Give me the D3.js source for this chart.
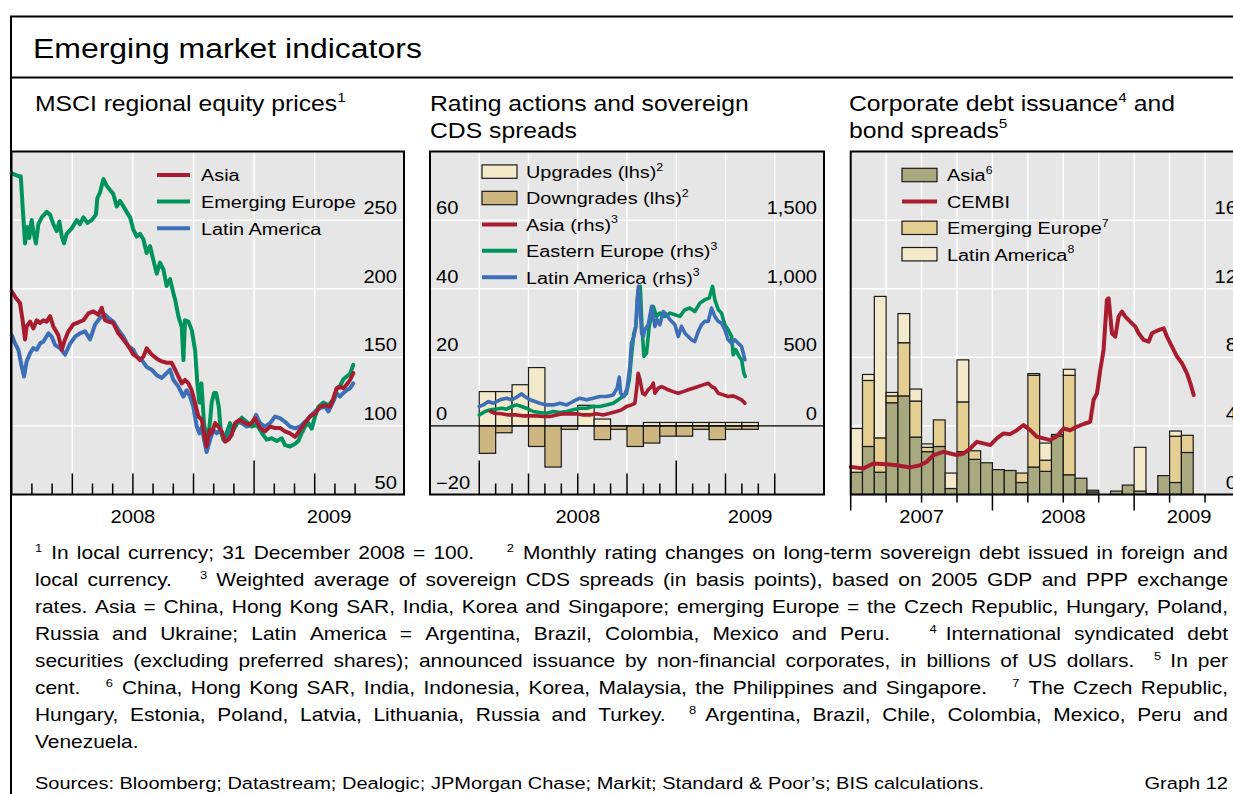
<!DOCTYPE html>
<html><head><meta charset="utf-8">
<script src="https://cdn.jsdelivr.net/npm/d3@7"></script>
<style>body{margin:0;background:#fff}svg{display:block}text{white-space:pre}</style>
</head><body>
<script>
// ---------------- DATA ----------------
// Panel 1: MSCI regional equity prices (months since Jan 2008, index 31 Dec 2008 = 100)
const eqAsia = [[0,198],[0.17,194],[0.41,189.5],[0.54,177],[0.66,163],[0.74,172.5],[0.91,176],[1.07,171],[1.24,177],[1.40,175],[1.57,177],[1.73,176],[1.90,180],[2.06,172.5],[2.31,166],[2.48,155.5],[2.64,163],[2.81,169],[3.05,174],[3.30,175.5],[3.55,177],[3.80,182],[4.04,183.5],[4.29,181],[4.46,186],[4.62,177],[4.79,176],[5.03,175],[5.28,167.5],[5.53,163],[5.78,158],[6.02,152],[6.19,150.5],[6.35,148],[6.52,150.5],[6.68,156.5],[6.93,152],[7.18,149],[7.43,147],[7.67,146],[7.92,146],[8.09,141],[8.25,136],[8.42,131],[8.58,133.5],[8.75,131],[8.91,126],[9.08,116.5],[9.24,107],[9.41,104.5],[9.52,94.5],[9.65,85],[9.79,97],[9.90,94.5],[10.07,102],[10.23,99.5],[10.40,96],[10.56,88.5],[10.73,90],[10.89,93.5],[11.06,102],[11.30,104.5],[11.55,102],[11.80,101],[12.05,105.5],[12.29,98.5],[12.54,96],[12.79,99.5],[13.04,98.5],[13.28,98.5],[13.53,96],[13.78,94.5],[14.03,92],[14.27,97],[14.52,102],[14.77,107],[15.02,109],[15.26,114],[15.51,115],[15.76,114],[15.92,120],[16.09,127.5],[16.25,128.5],[16.42,127.5],[16.58,130],[16.75,133.5],[16.91,138.5]];
const eqEurope = [[0,284],[0.33,282],[0.45,282],[0.54,260],[0.66,233],[0.78,245],[0.87,237],[0.99,250],[1.07,242],[1.20,233],[1.32,247],[1.49,252],[1.73,256],[1.90,254],[2.06,247],[2.23,242],[2.36,249],[2.48,238],[2.59,233],[2.72,240],[2.97,244],[3.22,250],[3.38,247],[3.55,252],[3.75,248],[3.96,250],[4.17,254],[4.24,266],[4.37,270],[4.54,280],[4.70,275],[4.87,272],[5.03,269],[5.20,260],[5.36,264],[5.53,260],[5.69,256],[5.86,252],[6.02,243],[6.19,238],[6.35,240],[6.52,236],[6.68,226],[6.85,231],[7.01,221],[7.18,211],[7.34,219],[7.51,214],[7.67,202],[7.84,207],[8.00,197],[8.09,192],[8.25,180],[8.42,172],[8.50,148],[8.58,177],[8.75,176],[8.91,170],[9.08,155],[9.19,131],[9.29,117],[9.39,131],[9.52,102],[9.65,90],[9.79,99],[9.90,117],[10.02,124],[10.12,124],[10.25,114],[10.35,97],[10.48,90],[10.64,95],[10.81,102],[10.97,97],[11.17,102],[11.39,106],[11.63,103],[11.88,99.5],[12.13,101],[12.38,95],[12.62,90],[12.87,91],[13.12,89],[13.37,91],[13.53,86],[13.78,85],[14.03,87],[14.19,89],[14.36,95],[14.52,99.5],[14.69,102],[14.85,98],[15.02,107],[15.18,114],[15.43,117],[15.68,115],[15.92,119],[16.09,127],[16.25,129],[16.42,134],[16.58,136],[16.75,138],[16.91,144.5]];
const eqLatAm = [[0,166],[0.17,160],[0.33,155.5],[0.50,143],[0.61,136],[0.74,147],[0.91,153],[1.07,156.7],[1.24,155.5],[1.40,160],[1.57,161.5],[1.82,167.5],[1.98,165],[2.15,159],[2.39,156.7],[2.64,152],[2.89,160],[3.14,165],[3.38,167.5],[3.63,169],[3.88,163],[4.13,174],[4.37,178.6],[4.62,181],[4.79,178.6],[5.03,176],[5.28,170],[5.53,165],[5.78,158],[6.02,155.5],[6.19,150.5],[6.44,148],[6.68,143],[6.93,141],[7.18,137],[7.43,135],[7.67,138.5],[7.84,141],[8.00,133.6],[8.25,128.7],[8.50,121.4],[8.66,126],[8.83,121.4],[8.99,114],[9.16,99.5],[9.29,94.6],[9.42,99.5],[9.52,90],[9.65,81],[9.82,90],[9.98,97],[10.15,94.6],[10.31,97],[10.51,90],[10.68,91],[10.89,97],[11.14,103],[11.39,102],[11.63,99.5],[11.88,100.7],[12.10,108],[12.29,102],[12.54,99.5],[12.79,102],[13.04,106.8],[13.28,105.6],[13.53,103],[13.78,99.5],[14.03,98.3],[14.27,99.5],[14.52,103],[14.77,106.8],[15.02,110.5],[15.26,113],[15.51,114],[15.68,110.5],[15.92,117.8],[16.09,124],[16.25,121.4],[16.42,124],[16.58,126],[16.75,127.5],[16.91,131]];
const eqYTicks = [50,100,150,200,250];

// Panel 2: rating actions (monthly, Jan 2008 .. May 2009) and sovereign CDS spreads (bp)
const ratingMonths = [0,1,2,3,4,5,6,7,8,9,10,11,12,13,14,15,16];
const upgrades   = [10,10,12,17,0,0,6,2,0,0,1,1,1,1,1,1,1];
const downgrades = [-8,-2,0,-6,-12,-1,0,-4,-1,-6,-5,-3,-3,-1,-4,-1,-1];
const cdsAsia = [[0.69,105],[0.95,92],[1.36,88],[1.77,80],[2.27,80],[2.68,73],[3.09,73],[3.49,73],[3.90,68],[4.30,68],[4.71,80],[5.12,88],[5.52,88],[5.93,88],[6.33,80],[6.74,80],[7.15,88],[7.55,80],[7.96,92],[8.36,105],[8.67,117],[8.97,141],[9.27,153],[9.48,165],[9.58,263],[9.68,384],[9.79,336],[9.95,238],[10.09,226],[10.29,263],[10.50,287],[10.60,311],[10.70,238],[10.90,275],[11.10,287],[11.31,275],[11.51,263],[11.81,250],[12.12,238],[12.42,250],[12.73,263],[13.03,275],[13.34,287],[13.64,299],[13.95,311],[14.15,287],[14.35,275],[14.56,238],[14.86,226],[15.16,214],[15.47,219],[15.77,202],[15.98,190],[16.18,165]];
const cdsEurope = [[0,80],[0.35,105],[0.65,117],[0.95,122],[1.36,129],[1.66,122],[1.97,141],[2.27,153],[2.58,141],[2.88,129],[3.29,105],[3.69,97],[4.10,92],[4.51,105],[4.91,97],[5.32,105],[5.72,117],[6.13,129],[6.54,129],[6.94,141],[7.35,141],[7.75,153],[8.16,165],[8.47,190],[8.73,214],[8.97,238],[9.14,336],[9.27,506],[9.42,676],[9.54,725],[9.68,993],[9.81,1017],[9.91,725],[10.03,506],[10.19,530],[10.35,725],[10.60,871],[10.80,798],[11.00,822],[11.31,798],[11.62,822],[11.92,810],[12.22,798],[12.53,847],[12.83,859],[13.13,834],[13.44,895],[13.74,920],[14.01,932],[14.21,1017],[14.35,920],[14.56,847],[14.76,822],[14.96,737],[15.16,701],[15.37,652],[15.47,518],[15.63,555],[15.83,506],[15.98,482],[16.12,384],[16.20,360]];
const cdsLatAm = [[0,141],[0.24,153],[0.55,178],[0.85,165],[1.26,190],[1.66,202],[1.97,190],[2.27,209],[2.58,234],[2.78,214],[3.09,190],[3.39,178],[3.69,165],[4.10,153],[4.51,153],[4.91,165],[5.32,153],[5.72,178],[6.13,202],[6.54,190],[6.94,202],[7.35,214],[7.75,214],[8.16,226],[8.40,275],[8.53,355],[8.61,238],[8.81,214],[9.01,275],[9.17,433],[9.27,603],[9.42,652],[9.54,725],[9.62,920],[9.70,1017],[9.79,871],[9.89,676],[9.99,652],[10.09,701],[10.29,737],[10.50,871],[10.70,725],[10.84,774],[11.00,737],[11.21,834],[11.41,810],[11.62,774],[11.92,737],[12.12,652],[12.32,725],[12.53,676],[12.73,652],[12.93,628],[13.13,615],[13.34,689],[13.54,737],[13.74,762],[13.95,762],[14.15,859],[14.35,798],[14.56,762],[14.76,749],[14.96,701],[15.16,628],[15.37,603],[15.57,628],[15.77,603],[15.98,579],[16.18,482]];
const ratingTicks = [-20,0,20,40,60];
const cdsTicks = [0,500,1000,1500];

// Panel 3: corporate debt issuance (monthly, Jan 2007 .. May 2009) and CEMBI spread (%)
const issAsia   = [1.3,2.8,1.3,5.35,5.75,3.35,2.5,2.8,0.35,2.5,2.05,1.85,1.45,1.4,0.7,1.6,1.35,3.4,1.15,0.95,0.15,0,0.2,0.55,0.2,0.05,1.1,0.7,2.45];
const issEurope = [0,3.85,2.0,0.4,3.1,2.1,0.25,1.55,0,2.9,0.5,0,0,0,0.55,5.35,0.65,0.1,5.8,0,0.1,0,0,0,0,0,0,2.7,1.0];
const issLatAm  = [2.55,0.35,8.25,0.2,1.7,0.7,0.2,0,0.9,2.45,0,0,0,0,0,0.1,1.0,0,0.35,0,0,0,0,0,2.55,0,0,0.3,0];
const cembi = [[0,1.61],[1.07,1.52],[1.92,1.81],[3.05,1.77],[3.90,1.71],[5.03,1.58],[5.88,1.71],[6.44,1.91],[7.01,2.30],[7.85,2.49],[8.42,2.39],[8.98,2.30],[9.55,2.39],[10.11,2.68],[10.68,3.07],[11.24,2.98],[11.81,2.88],[12.37,3.27],[12.94,3.56],[13.50,3.52],[14.07,3.75],[14.63,4.05],[15.20,3.75],[15.76,3.37],[16.33,3.27],[16.89,3.17],[17.46,3.40],[18.02,3.85],[18.59,3.75],[19.15,3.95],[19.72,4.11],[20.28,4.24],[20.56,5.51],[20.85,5.89],[21.13,7.26],[21.41,8.42],[21.69,11.34],[21.84,11.44],[22.12,9.40],[22.40,9.20],[22.68,10.37],[22.97,10.66],[23.25,10.37],[23.81,9.98],[24.10,9.79],[24.38,9.40],[24.80,9.01],[25.23,8.91],[25.51,9.40],[26.07,9.59],[26.50,9.69],[26.78,9.20],[27.20,8.62],[27.63,8.04],[28.05,7.65],[28.47,7.06],[28.76,6.48],[29.04,5.80]];
const issTicks = [0,4,8,12,16];

const titleText = "Emerging market indicators";
const footLines = [
 "^1 In local currency; 31 December 2008 = 100.    ^2 Monthly rating changes on long-term sovereign debt issued in foreign and",
 "local currency.   ^3 Weighted average of sovereign CDS spreads (in basis points), based on 2005 GDP and PPP exchange",
 "rates. Asia = China, Hong Kong SAR, India, Korea and Singapore; emerging Europe = the Czech Republic, Hungary, Poland,",
 "Russia and Ukraine; Latin America = Argentina, Brazil, Colombia, Mexico and Peru.   ^4 International syndicated debt",
 "securities (excluding preferred shares); announced issuance by non-financial corporates, in billions of US dollars.  ^5 In per",
 "cent.   ^6 China, Hong Kong SAR, India, Indonesia, Korea, Malaysia, the Philippines and Singapore.   ^7 The Czech Republic,",
 "Hungary, Estonia, Poland, Latvia, Lithuania, Russia and Turkey.  ^8 Argentina, Brazil, Chile, Colombia, Mexico, Peru and",
 "Venezuela."
];
const sourcesText = "Sources: Bloomberg; Datastream; Dealogic; JPMorgan Chase; Markit; Standard & Poor’s; BIS calculations.";
const graphLabel = "Graph 12";

// ---------------- STYLE ----------------
const W = 1233, H = 794, SX = 1.15;
const FONT = "'Liberation Sans', Arial, Helvetica, sans-serif";
const C = {red:"#A81C2F", green:"#00935E", blue:"#3D6FB6", bg:"#E6E6E6",
  up:"#F3EACB", down:"#CDB67F", iAsia:"#A8A97F", iEur:"#E4CE92", iLat:"#F3EACB", edge:"#1a1a1a"};
const AX = 17.5, LEG = 17.3;

const svg = d3.select('body').append('svg').attr('width',W).attr('height',H)
  .style('font-family',FONT);

function rich(g,x,y,parts,size,anchor){
  const t = g.append('text').attr('transform',`translate(${x},${y}) scale(${SX},1)`)
    .attr('font-size',size).attr('text-anchor',anchor||'start').attr('fill','#000');
  let raised=false;
  (Array.isArray(parts)?parts:[parts]).forEach(p=>{
    const sup = typeof p==='object';
    const ts = t.append('tspan').text(sup?p.sup:p);
    if(sup){ ts.attr('font-size',size*0.62).attr('dy',-size*0.42); raised=true; }
    else if(raised){ ts.attr('dy',size*0.42); raised=false; }
  });
  return t;
}

// frame
const frame = svg.append('g');
frame.append('line').attr('x1',10).attr('x2',W).attr('y1',16.5).attr('y2',16.5).attr('stroke','#000').attr('stroke-width',2);
frame.append('line').attr('x1',11).attr('x2',11).attr('y1',16).attr('y2',H).attr('stroke','#000').attr('stroke-width',2);
frame.append('line').attr('x1',11).attr('x2',W).attr('y1',77.5).attr('y2',77.5).attr('stroke','#000').attr('stroke-width',2);
rich(svg,33,58,titleText,27.8);

const PY0 = 151.5, PY1 = 494.5, YEAR_Y = 523, SUB_Y = 111, SUB_Y2 = 137.5;

function panelBase(x0,x1){
  const g = svg.append('g');
  g.append('rect').attr('x',x0).attr('y',PY0).attr('width',x1-x0).attr('height',PY1-PY0).attr('fill',C.bg);
  return g;
}
function border(g,x0,x1){
  g.append('rect').attr('x',x0).attr('y',PY0).attr('width',x1-x0).attr('height',PY1-PY0)
   .attr('fill','none').attr('stroke','#000').attr('stroke-width',2);
}
function hgrid(g,y,vals,x0,x1){
  g.selectAll(null).data(vals).join('line').attr('x1',x0).attr('x2',x1)
   .attr('y1',d=>y(d)).attr('y2',d=>y(d)).attr('stroke','#fff').attr('stroke-width',1.4);
}
function vgrid(g,x,vals){
  g.selectAll(null).data(vals).join('line').attr('x1',d=>x(d)).attr('x2',d=>x(d))
   .attr('y1',PY0).attr('y2',PY1).attr('stroke','#fff').attr('stroke-width',1.4);
}
function innerTicks(g,x,months){
  g.selectAll(null).data(months).join('line').attr('x1',d=>x(d)).attr('x2',d=>x(d))
   .attr('y1',PY1).attr('y2',d=> PY1 - (d%12===0?34:(d%3===0?21:11)))
   .attr('stroke','#000').attr('stroke-width',1.5);
}
function yearLabels(g,x,years){ // years: [label, startMonth]
  const [r0,r1] = x.range();
  years.forEach(([lab,m])=>{
    const a = Math.max(x(m),r0), b = Math.min(x(m+12),r1);
    rich(g,(a+b)/2,YEAR_Y,lab,AX,'middle');
  });
}
function series(g,line,data,color,w){
  g.append('path').datum(data).attr('d',line).attr('fill','none').attr('stroke',color)
   .attr('stroke-width',w).attr('stroke-linejoin','round').attr('stroke-linecap','round');
}

// ---------------- PANEL 1 ----------------
{
  const x0=11.5,x1=404;
  const x = d3.scaleLinear().domain([0,19.42]).range([11.7,404]);
  const y = d3.scaleLinear().domain([50,300]).range([PY1,PY0]);
  const g = panelBase(x0,x1);
  hgrid(g,y,eqYTicks.filter(v=>v>50),x0,x1);
  vgrid(g,x,[3,6,9,12,15]);
  innerTicks(g,x,d3.range(1,18));
  const ln = d3.line().x(d=>x(d[0])).y(d=>y(d[1]));
  const cg = g.append('g');
  series(cg,ln,eqLatAm,C.blue,4);
  series(cg,ln,eqEurope,C.green,4);
  series(cg,ln,eqAsia,C.red,4);
  eqYTicks.forEach(v=>rich(g,397,y(v)-6,String(v),AX,'end'));
  const leg = [["Asia",C.red],["Emerging Europe",C.green],["Latin America",C.blue]];
  leg.forEach(([lab,col],i)=>{
    const yy = 175 + i*26.6;
    g.append('line').attr('x1',157).attr('x2',190).attr('y1',yy).attr('y2',yy).attr('stroke',col).attr('stroke-width',4);
    rich(g,201,yy+6.3,lab,LEG);
  });
  border(g,x0,x1);
  yearLabels(svg,x,[["2008",0],["2009",12]]);
  rich(svg,35,SUB_Y,["MSCI regional equity prices",{sup:"1"}],21.5);
}

// ---------------- PANEL 2 ----------------
{
  const x0=430,x1=824;
  const x = d3.scaleLinear().domain([-3,21]).range([x0,x1]);
  const y = d3.scaleLinear().domain([-20,80]).range([PY1,PY0]);
  const yR = d3.scaleLinear().domain([-500,2000]).range([PY1,PY0]);
  const g = panelBase(x0,x1);
  hgrid(g,y,[20,40,60],x0,x1);
  vgrid(g,x,[0,3,6,9,12,15,18]);
  innerTicks(g,x,d3.range(0,19));
  const bars = g.append('g');
  bars.selectAll(null).data(ratingMonths.filter((m,i)=>upgrades[i]>0)).join('rect')
    .attr('x',m=>x(m)).attr('width',m=>x(m+1)-x(m))
    .attr('y',m=>y(upgrades[m])).attr('height',m=>y(0)-y(upgrades[m]))
    .attr('fill',C.up).attr('stroke',C.edge).attr('stroke-width',1.2);
  bars.selectAll(null).data(ratingMonths.filter((m,i)=>downgrades[i]<0)).join('rect')
    .attr('x',m=>x(m)).attr('width',m=>x(m+1)-x(m))
    .attr('y',y(0)).attr('height',m=>y(downgrades[m])-y(0))
    .attr('fill',C.down).attr('stroke',C.edge).attr('stroke-width',1.2);
  g.append('line').attr('x1',x0).attr('x2',x1).attr('y1',y(0)).attr('y2',y(0)).attr('stroke','#000').attr('stroke-width',1.2);
  const ln = d3.line().x(d=>x(d[0])).y(d=>yR(d[1]));
  series(g,ln,cdsEurope,C.green,3.6);
  series(g,ln,cdsLatAm,C.blue,3.6);
  series(g,ln,cdsAsia,C.red,3.6);
  ratingTicks.forEach(v=>rich(g,436,y(v)-6,v<0?"\u2212"+Math.abs(v):String(v),AX,'start'));
  cdsTicks.forEach(v=>rich(g,817,yR(v)-6,d3.format(",")(v),AX,'end'));
  const legB = [["Upgrades (lhs)",C.up],["Downgrades (lhs)",C.down]];
  legB.forEach(([lab,col],i)=>{
    const yy = 171.6 + i*26.4;
    g.append('rect').attr('x',482).attr('y',yy-6.7).attr('width',35).attr('height',13.4).attr('fill',col).attr('stroke',C.edge).attr('stroke-width',1.2);
    rich(g,526,yy+6.3,[lab,{sup:"2"}],LEG);
  });
  const legL = [["Asia (rhs)",C.red],["Eastern Europe (rhs)",C.green],["Latin America (rhs)",C.blue]];
  legL.forEach(([lab,col],i)=>{
    const yy = 224.4 + i*26.4;
    g.append('line').attr('x1',482).attr('x2',517).attr('y1',yy).attr('y2',yy).attr('stroke',col).attr('stroke-width',4);
    rich(g,526,yy+6.3,[lab,{sup:"3"}],LEG);
  });
  border(g,x0,x1);
  yearLabels(svg,x,[["2008",0],["2009",12]]);
  rich(svg,430,SUB_Y,"Rating actions and sovereign",21.5);
  rich(svg,430,SUB_Y2,"CDS spreads",21.5);
}

// ---------------- PANEL 3 ----------------
{
  const x0=850.7,x1=1244;
  const x = d3.scaleLinear().domain([0,33.3]).range([x0,x1]);
  const y = d3.scaleLinear().domain([0,20]).range([PY1,PY0]);
  const g = panelBase(x0,x1);
  hgrid(g,y,[4,8,12,16],x0,x1);
  vgrid(g,x,d3.range(3,34,3));
  const stacked = issAsia.map((a,i)=>{
    const e=issEurope[i], l=issLatAm[i];
    return [{m:i,lo:0,hi:a,c:C.iAsia},{m:i,lo:a,hi:a+e,c:C.iEur},{m:i,lo:a+e,hi:a+e+l,c:C.iLat}];
  }).flat().filter(d=>d.hi>d.lo);
  g.append('g').selectAll('rect').data(stacked).join('rect')
    .attr('x',d=>x(d.m)).attr('width',d=>x(d.m+1)-x(d.m))
    .attr('y',d=>y(d.hi)).attr('height',d=>y(d.lo)-y(d.hi))
    .attr('fill',d=>d.c).attr('stroke',C.edge).attr('stroke-width',1.2);
  const ln = d3.line().x(d=>x(d[0])).y(d=>y(d[1]));
  series(g,ln,cembi,C.red,4);
  issTicks.forEach(v=>rich(g,1237,y(v)-6,String(v),AX,'end'));
  const leg = [["Asia","6",C.iAsia,'box'],["CEMBI",null,C.red,'line'],["Emerging Europe","7",C.iEur,'box'],["Latin America","8",C.iLat,'box']];
  leg.forEach(([lab,sup,col,kind],i)=>{
    const yy = 175 + i*26.4;
    if(kind==='box') g.append('rect').attr('x',902).attr('y',yy-6.7).attr('width',35).attr('height',13.4).attr('fill',col).attr('stroke',C.edge).attr('stroke-width',1.2);
    else g.append('line').attr('x1',902).attr('x2',937).attr('y1',yy).attr('y2',yy).attr('stroke',col).attr('stroke-width',4);
    rich(g,947,yy+6.3,sup?[lab,{sup}]:[lab],LEG);
  });
  border(g,x0,x1);
  svg.selectAll(null).data(d3.range(0,34,3)).join('line')
    .attr('x1',d=>x(d)).attr('x2',d=>x(d)).attr('y1',PY1).attr('y2',d=>PY1+(d%12===0?16:8))
    .attr('stroke','#000').attr('stroke-width',1.5);
  yearLabels(svg,x,[["2007",0],["2008",12],["2009",24]]);
  rich(svg,849,SUB_Y,["Corporate debt issuance",{sup:"4"}," and"],21.5);
  rich(svg,849,SUB_Y2,["bond spreads",{sup:"5"}],21.5);
}

// ---------------- FOOTNOTES ----------------
{
  const FN = 18.2, FS = 11.3, X0 = 35, X1 = 1228, AFTER_SUP = 9;
  const fg = svg.append('g');
  const spaceW = 0.278*FN*SX;
  footLines.forEach((str,li)=>{
    const y = 559 + li*27;
    const justify = li < footLines.length-1;
    const raw = str.split(' ');
    const items = [];
    let units = 0;
    raw.forEach(tk=>{
      if(tk===''){ units++; return; }
      const sup = tk.startsWith('^');
      const el = fg.append('text').attr('font-size',sup?FS:FN).attr('fill','#000').text(sup?tk.slice(1):tk);
      items.push({el,sup,w:el.node().getComputedTextLength()*SX,units:items.length? units+1 : 0});
      units = 0;
    });
    items.forEach((d,i)=>{ d.fixed = (i>0 && items[i-1].sup) ? AFTER_SUP : 0; if(d.fixed) d.units = 0; });
    const fixedW = d3.sum(items,d=>d.w+d.fixed);
    const U = d3.sum(items,d=>d.units);
    const g = justify ? (X1-X0-fixedW)/U : spaceW;
    let xx = X0;
    items.forEach((d,i)=>{
      xx += d.units*g + d.fixed;
      d.el.attr('transform',`translate(${xx},${d.sup?y-7:y}) scale(${SX},1)`);
      xx += d.w;
    });
  });
  rich(svg,35,789,sourcesText,17.4);
  rich(svg,1228,789,graphLabel,17.4,'end');
}
</script>
</body></html>
